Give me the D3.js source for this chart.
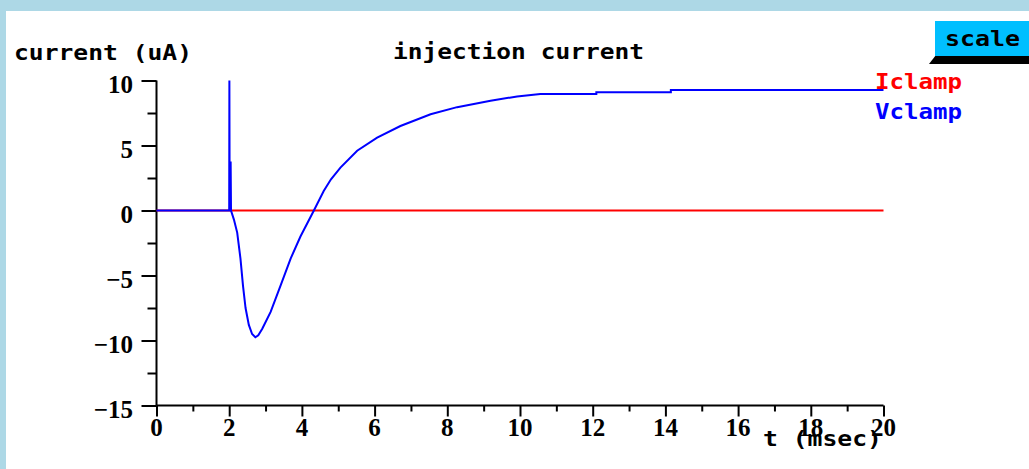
<!DOCTYPE html>
<html>
<head>
<meta charset="utf-8">
<script src="https://cdn.jsdelivr.net/npm/d3@7"></script>
<style>
  html, body { margin: 0; padding: 0; background: #add8e6; }
  svg { display: block; }
</style>
</head>
<body>
<svg id="chart" width="1029" height="469"></svg>
<script>
// datos
let tTicks = [0, 2, 4, 6, 8, 10, 12, 14, 16, 18, 20];
let yTicks = [-15, -10, -5, 0, 5, 10];
let iclampT = [0, 20];
let iclampV = [0, 0];
let vclampT = [0, 2.0, 2.005, 2.01, 2.04, 2.05, 2.13, 2.22, 2.31, 2.38, 2.45, 2.54, 2.63, 2.72, 2.80, 2.91,
  3.14, 3.41, 3.69, 3.96, 4.33, 4.6, 4.8, 5.06, 5.52, 6.07, 6.71, 7.54, 8.27, 9.19, 9.92, 10.56, 12.1, 12.1, 14.15, 14.15, 20];
let vclampV = [0, 0, 10, 3.7, 3.7, 0, -0.7, -1.7, -3.7, -5.8, -7.5, -8.8, -9.5, -9.75, -9.6, -9.1,
  -7.8, -5.8, -3.7, -2.0, 0, 1.5, 2.4, 3.3, 4.6, 5.6, 6.5, 7.4, 7.95, 8.45, 8.77, 8.97, 8.97, 9.1, 9.1, 9.27, 9.27];
let legendNames = ["Iclamp", "Vclamp"];
let legendColors = ["#ff0000", "#0000ff"];

let svg = d3.select("#chart");
let mono = "'DejaVu Sans Mono', monospace";
let serif = "'Liberation Serif', 'Times New Roman', serif";

// panel blanco
svg.append("rect").attr("x", 6).attr("y", 11).attr("width", 1029).attr("height", 469).attr("fill", "#fff");

let x = d3.scaleLinear().domain([0, 20]).range([156.5, 883.5]);
let y = d3.scaleLinear().domain([-15, 10]).range([405.5, 80.5]);

// eje y
let yAxis = svg.append("g").attr("transform", `translate(${x(0)},0)`)
  .call(d3.axisLeft(y).tickValues(d3.range(-15, 10.1, 2.5)).tickSize(15).tickFormat(""));
yAxis.selectAll(".tick line").attr("x2", d => d % 5 === 0 ? -15 : -9);
yAxis.selectAll("line, path").attr("stroke", "#000").attr("stroke-width", 2);
yAxis.select(".domain").attr("d", `M0,${y(10)}V${y(-15)}`);

svg.selectAll(".ylab").data(yTicks).enter().append("text")
  .attr("x", 133).attr("y", d => y(d) + 12)
  .attr("text-anchor", "end")
  .attr("font-family", serif).attr("font-weight", "bold").attr("font-size", 25)
  .text(d => d < 0 ? "\u2212" + Math.abs(d) : d);

// eje x
let xAxis = svg.append("g").attr("transform", `translate(0,${y(-15)})`)
  .call(d3.axisBottom(x).tickValues(d3.range(0, 20.1, 1)).tickSize(12).tickFormat(""));
xAxis.selectAll(".tick line").attr("y2", d => d % 2 === 0 ? 11 : 6);
xAxis.selectAll("line, path").attr("stroke", "#000").attr("stroke-width", 2);
xAxis.select(".domain").attr("d", `M${x(0)},0H${x(20)}`);

svg.selectAll(".xlab").data(tTicks).enter().append("text")
  .attr("x", d => x(d)).attr("y", 436)
  .attr("text-anchor", "middle")
  .attr("font-family", serif).attr("font-weight", "bold").attr("font-size", 25)
  .text(d => d);

// curvas
let line = d3.line().x(d => x(d[0])).y(d => y(d[1]));
svg.append("path").datum(d3.zip(iclampT, iclampV)).attr("d", line)
  .attr("fill", "none").attr("stroke", legendColors[0]).attr("stroke-width", 2);
svg.append("path").datum(d3.zip(vclampT, vclampV)).attr("d", line)
  .attr("fill", "none").attr("stroke", legendColors[1]).attr("stroke-width", 2);

// textos
function monoText(txt, px, py, w, color) {
  return svg.append("text").attr("x", px).attr("y", py)
    .attr("font-family", mono).attr("font-weight", "bold").attr("font-size", 22)
    .attr("fill", color || "#000")
    .attr("textLength", w).attr("lengthAdjust", "spacingAndGlyphs")
    .text(txt);
}
monoText("current (uA)", 14, 60, 178);
monoText("injection current", 393, 59, 251);
monoText("t (msec)", 763, 446, 119);
legendNames.forEach((n, i) => monoText(n, 875, 89 + i * 30, 87, legendColors[i]));

// botón scale
svg.append("polygon").attr("points", "936,55 1029,55 1029,64 929,64").attr("fill", "#000");
svg.append("rect").attr("x", 935).attr("y", 21).attr("width", 94).attr("height", 35).attr("fill", "#00bfff");
monoText("scale", 945, 46, 75);
</script>
</body>
</html>
